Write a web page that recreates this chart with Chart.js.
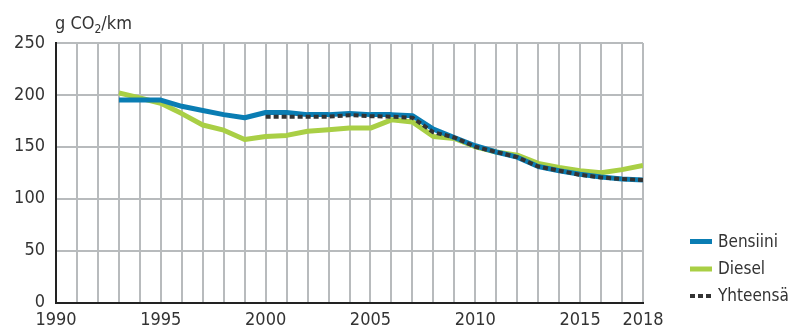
<!DOCTYPE html>
<html>
<head>
<meta charset="utf-8">
<script src="https://cdn.jsdelivr.net/npm/chart.js@4"></script>
<style>
  html, body { margin: 0; padding: 0; background: #fff; }
  #wrap { position: relative; width: 790px; height: 332px; }
  #unit {
    position: absolute; left: 55px; top: 14px;
    font-family: "DejaVu Sans Condensed", "DejaVu Sans", sans-serif;
    font-stretch: condensed;
    font-size: 18px; color: #333; line-height: 1;
  }
  #unit sub { font-size: 12px; vertical-align: -4px; }
</style>
</head>
<body>
<div id="wrap">
  <canvas id="co2Chart" width="790" height="332"></canvas>
  <div id="unit">g CO<sub>2</sub>/km</div>
</div>
<script>
    // Data (g CO2/km)
    const years = [1990, 1991, 1992, 1993, 1994, 1995, 1996, 1997, 1998, 1999,
                   2000, 2001, 2002, 2003, 2004, 2005, 2006, 2007, 2008, 2009,
                   2010, 2011, 2012, 2013, 2014, 2015, 2016, 2017, 2018];
    const bensiini = [null, null, null, 195, 195, 195, 189, 185, 181, 178,
                      183, 183, 181, 181, 182, 181, 181, 180, 167, 159,
                      151, 145, 140, 131, 127, 123.5, 121, 119, 118];
    const diesel = [null, null, null, 202, 197, 192, 182, 171, 166, 157,
                    160, 161, 165, 166.5, 168, 168, 176, 174, 160, 158,
                    150, 145, 142, 134, 130, 127, 125, 128, 132];
    const yhteensa = [null, null, null, null, null, null, null, null, null, null,
                      179, 179, 179, 179, 180.5, 179.5, 179, 178, 164, 159,
                      150, 145, 140, 131, 127, 123, 120.5, 119, 118];
    const seriesNames = ["Bensiini", "Diesel", "Yhteensä"];
    const xTickLabels = [1990, 1995, 2000, 2005, 2010, 2015, 2018];
    const yTicks = [0, 50, 100, 150, 200, 250];

    const fontFamily = '"DejaVu Sans Condensed", "DejaVu Sans", sans-serif';
    const gridGrey = "#b8bbbd";
    const axisDark = "#222";

    const toPoints = vals => years.map((yr, i) => ({ x: yr, y: vals[i] }));

    // Simple legend on the right, drawn from the dataset styles
    const sideLegend = {
      id: "sideLegend",
      afterDraw(chart) {
        const c = chart.ctx;
        const rows = [241.5, 269, 296];
        chart.data.datasets.forEach((ds, i) => {
          const y = rows[i];
          c.save();
          c.strokeStyle = ds.borderColor;
          c.lineWidth = ds.borderWidth;
          c.setLineDash(ds.borderDash || []);
          c.beginPath();
          c.moveTo(690, y);
          c.lineTo(712, y);
          c.stroke();
          c.setLineDash([]);
          c.fillStyle = "#333";
          c.font = "17px " + fontFamily;
          c.textBaseline = "middle";
          c.fillText(ds.label, 718, y + 1);
          c.restore();
        });
      }
    };

    const ctx = document.getElementById("co2Chart").getContext("2d");
    const chart = new Chart(ctx, {
      type: "line",
      data: {
        datasets: [{
          label: seriesNames[0],
          data: toPoints(bensiini),
          borderColor: "#0a7db3",
          borderWidth: 5,
          order: 1
        }, {
          label: seriesNames[1],
          data: toPoints(diesel),
          borderColor: "#a9cf45",
          borderWidth: 5,
          order: 2
        }, {
          label: seriesNames[2],
          data: toPoints(yhteensa),
          borderColor: "#333333",
          borderWidth: 4,
          borderDash: [5, 3],
          order: 0
        }]
      },
      options: {
        responsive: false,
        animation: false,
        layout: { padding: { top: 43, right: 147, left: 0, bottom: 0 } },
        elements: {
          point: { radius: 0 },
          line: { tension: 0, borderJoinStyle: "round" }
        },
        plugins: {
          legend: { display: false },
          tooltip: { enabled: false }
        },
        scales: {
          x: {
            type: "linear",
            min: 1990,
            max: 2018,
            afterBuildTicks: scale => {
              scale.ticks = years.map(v => ({ value: v }));
            },
            afterFit: scale => { scale.height = 29.5; },
            ticks: {
              autoSkip: false,
              maxRotation: 0,
              padding: 7,
              color: "#333",
              font: { family: fontFamily, size: 18 },
              callback: v => xTickLabels.includes(v) ? String(v) : ""
            },
            grid: {
              drawTicks: false,
              lineWidth: 2,
              color: c => c.tick && c.tick.value === 1990 ? axisDark : gridGrey
            },
            border: { color: axisDark, width: 2 }
          },
          y: {
            min: 0,
            max: 250,
            afterBuildTicks: scale => {
              scale.ticks = yTicks.map(v => ({ value: v }));
            },
            afterFit: scale => { scale.width = 56; },
            ticks: {
              padding: 11,
              color: "#333",
              font: { family: fontFamily, size: 18 }
            },
            grid: {
              drawTicks: false,
              lineWidth: 2,
              color: c => c.tick && c.tick.value === 0 ? axisDark : gridGrey
            },
            border: { color: axisDark, width: 2 }
          }
        }
      },
      plugins: [sideLegend]
    });
</script>
</body>
</html>
